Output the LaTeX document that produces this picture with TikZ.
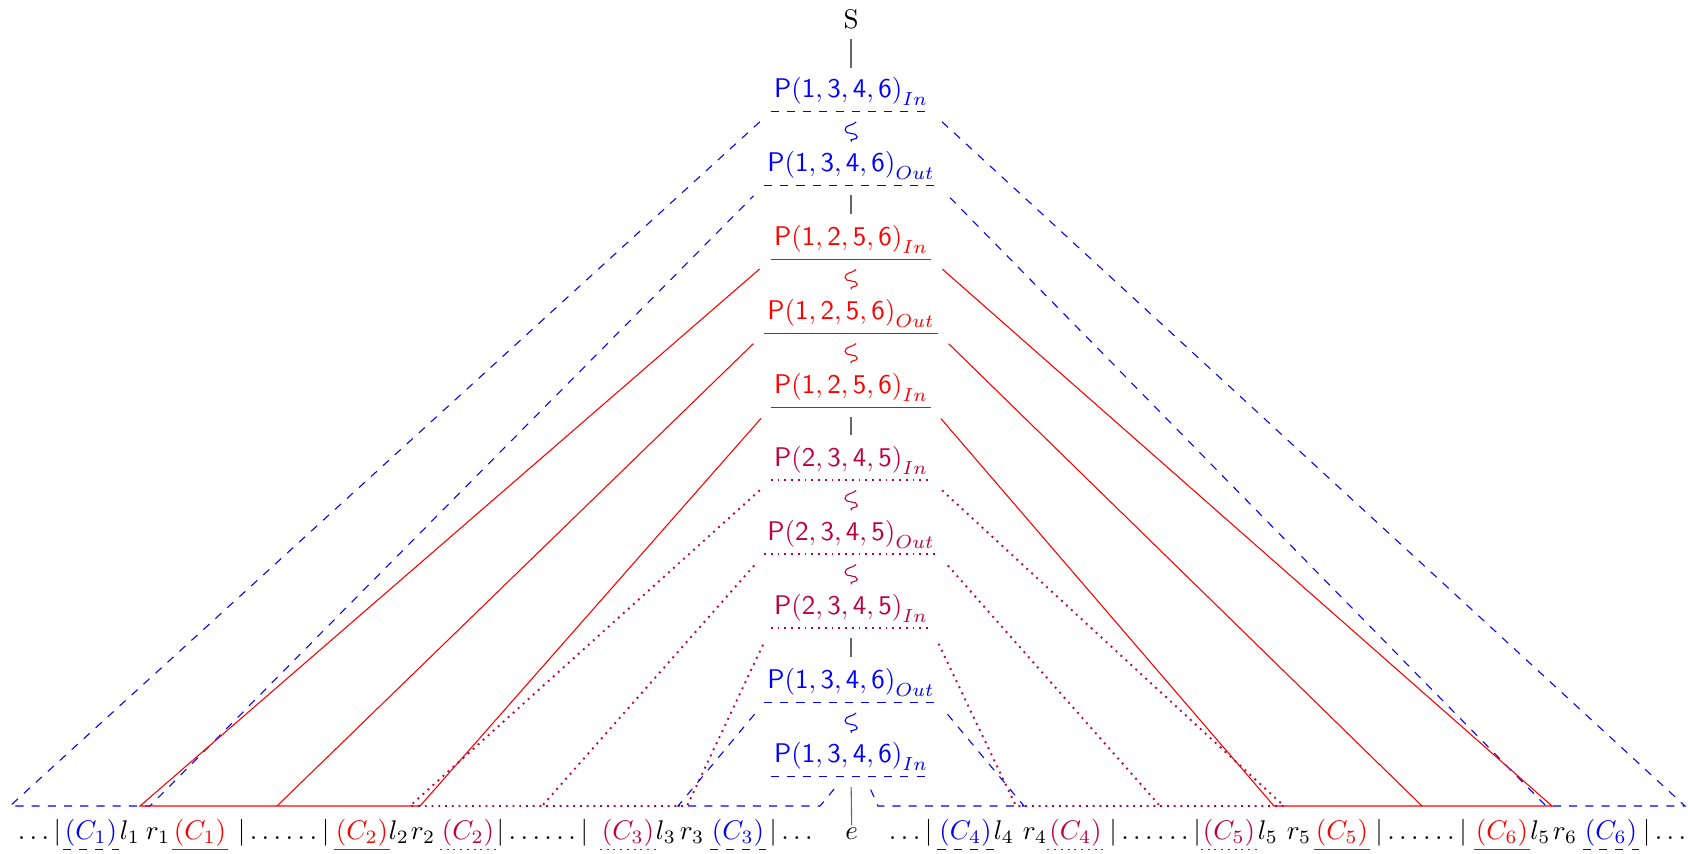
\documentclass[tikz,border=0pt]{standalone}
\usetikzlibrary{calc}
\definecolor{cpur}{rgb}{0.75,0,0.25}
\newcommand{\wavyconn}[3]{%
  \draw[#3] ($(#1.south)+(1.9pt,-3.8pt)$) to[out=-135,in=90] ++(-4.1pt,-2.9pt)
    to[out=-90,in=90] ++(4.5pt,-2.6pt) to[out=-90,in=90] ++(-2.2pt,-1.5pt)
    -- ($(#2.north)+(0,2pt)$);}
\begin{document}
\begin{tikzpicture}[x=0.3704pt,y=-0.3704pt,
  pnode/.style={inner xsep=1pt, inner ysep=2.1pt, anchor=south},
  bl/.style={draw=blue, dashed},
  rd/.style={draw=red},
  pu/.style={draw=cpur, line width=0.7pt, dash pattern=on 0.7pt off 1.8pt},
  vline/.style={draw=black!60, shorten <=3.7pt, shorten >=1.7pt},
  cut/.style={shorten <=5.5pt, shorten >=5.5pt},
  txt/.style={anchor=base, inner sep=0pt},
  ul/.style={anchor=base, inner xsep=0.5pt, inner ysep=1.2pt}]
\useasboundingbox (0,0) rectangle (1688,853);

% top
\node[inner sep=0pt] (s) at (851,19.7) {S};

% chain of nodes
\node[pnode, text=blue] (n1) at (851,111.8) {$\mathsf{P(1,3,4,6)}_{In}$};
\node[pnode, text=blue] (n2) at (851,185.3) {$\mathsf{P(1,3,4,6)}_{Out}$};
\node[pnode, text=red] (n3) at (851,259.3) {$\mathsf{P(1,2,5,6)}_{In}$};
\node[pnode, text=red] (n4) at (851,333.3) {$\mathsf{P(1,2,5,6)}_{Out}$};
\node[pnode, text=red] (n5) at (851,407.3) {$\mathsf{P(1,2,5,6)}_{In}$};
\node[pnode, text=cpur] (n6) at (851,480.3) {$\mathsf{P(2,3,4,5)}_{In}$};
\node[pnode, text=cpur] (n7) at (851,554.3) {$\mathsf{P(2,3,4,5)}_{Out}$};
\node[pnode, text=cpur] (n8) at (851,628.3) {$\mathsf{P(2,3,4,5)}_{In}$};
\node[pnode, text=blue] (n9) at (851,702.8) {$\mathsf{P(1,3,4,6)}_{Out}$};
\node[pnode, text=blue] (n10) at (851,776.3) {$\mathsf{P(1,3,4,6)}_{In}$};

% underlines of chain nodes
\draw[bl] (n1.south west) -- (n1.south east);
\draw[bl] (n2.south west) -- (n2.south east);
\draw[rd] (n3.south west) -- (n3.south east);
\draw[rd] (n4.south west) -- (n4.south east);
\draw[rd] (n5.south west) -- (n5.south east);
\draw[pu] (n6.south west) -- (n6.south east);
\draw[pu] (n7.south west) -- (n7.south east);
\draw[pu] (n8.south west) -- (n8.south east);
\draw[bl] (n9.south west) -- (n9.south east);
\draw[bl] (n10.south west) -- (n10.south east);

% bottom word e
\node[txt] (e) at (851.7,839) {$e$};

% vertical connectors
\draw[draw=black!60, shorten <=3.3pt, shorten >=1.2pt] (s.south) -- (n1.north);
\draw[vline] (n2.south) -- (n3.north);
\draw[vline] (n5.south) -- (n6.north);
\draw[vline] (n8.south) -- (n9.north);
\draw[draw=black!60, shorten <=4pt, shorten >=0.6pt] (n10.south) -- (e.north);

% wavy connectors
\wavyconn{n1}{n2}{blue}
\wavyconn{n3}{n4}{red}
\wavyconn{n4}{n5}{red}
\wavyconn{n6}{n7}{cpur}
\wavyconn{n7}{n8}{cpur}
\wavyconn{n9}{n10}{blue}

% bottom points
\coordinate (L1) at (10,806);   \coordinate (R1) at (1685,806);
\coordinate (L2) at (150,806);  \coordinate (R2) at (1546,806);
\coordinate (L3) at (140,806);  \coordinate (R3) at (1552,806);
\coordinate (L4) at (277,806);  \coordinate (R4) at (1422,806);
\coordinate (L5) at (420,806);  \coordinate (R5) at (1274,806);
\coordinate (L6) at (410,806);  \coordinate (R6) at (1284,806);
\coordinate (L7) at (542,806);  \coordinate (R7) at (1160,806);
\coordinate (L8) at (687,806);  \coordinate (R8) at (1016,806);
\coordinate (L9) at (678,806);  \coordinate (R9) at (1024,806);
\coordinate (L10) at (820,806); \coordinate (R10) at (878,806);
\coordinate (T10L) at (835,788); \coordinate (T10R) at (870,788);

% band A (blue)
\draw[bl, cut] (n1.south west) -- (L1) -- (L2) -- (n2.south west);
\draw[bl, cut] (n1.south east) -- (R1) -- (R2) -- (n2.south east);
% band B (red)
\draw[rd, cut] (n3.south west) -- (L3) -- (L5) -- (n5.south west);
\draw[rd, cut] (n3.south east) -- (R3) -- (R5) -- (n5.south east);
\draw[rd, shorten <=5.5pt] (n4.south west) -- (L4);
\draw[rd, shorten <=5.5pt] (n4.south east) -- (R4);
% band C (purple)
\draw[pu, cut] (n6.south west) -- (L6) -- (L8) -- (n8.south west);
\draw[pu, cut] (n6.south east) -- (R6) -- (R8) -- (n8.south east);
\draw[pu, shorten <=5.5pt] (n7.south west) -- (L7);
\draw[pu, shorten <=5.5pt] (n7.south east) -- (R7);
% band D (blue)
\draw[bl, shorten <=5.5pt] (n9.south west) -- (L9) -- (L10) -- (T10L);
\draw[bl, shorten <=5.5pt] (n9.south east) -- (R9) -- (R10) -- (T10R);

% bottom text row
\node[txt] (a1) at (39.5,839) {$\ldots|$};
\node[ul, text=blue] (c1a) at (91,839) {$(C_1)$};
\node[txt] (l1) at (130,839) {$l_1$};
\node[txt] (r1) at (158,839) {$r_1$};
\node[ul, text=red] (c1b) at (200,839) {$(C_1)$};
\node[txt] (a2) at (283.5,839) {$|\ldots\ldots|$};
\node[ul, text=red] (c2a) at (362,839) {$(C_2)$};
\node[txt] (l2) at (399,839) {$l_2$};
\node[txt] (r2) at (423,839) {$r_2$};
\node[ul, text=cpur] (c2b) at (468,839) {$(C_2)$};
\node[txt] (a3) at (542.3,839) {$|\ldots\ldots|$};
\node[ul, text=cpur] (c3a) at (628,839) {$(C_3)$};
\node[txt] (l3) at (666,839) {$l_3$};
\node[txt] (r3) at (692,839) {$r_3$};
\node[ul, text=blue] (c3b) at (738,839) {$(C_3)$};
\node[txt] (a4) at (791,839) {$|\ldots$};
\node[txt] (a5) at (910.7,839) {$\ldots|$};
\node[ul, text=blue] (c4a) at (965.5,839) {$(C_4)$};
\node[txt] (l4) at (1004,839) {$l_4$};
\node[txt] (r4) at (1035,839) {$r_4$};
\node[ul, text=cpur] (c4b) at (1075.5,839) {$(C_4)$};
\node[txt] (a6) at (1155,839) {$|\ldots\ldots|$};
\node[ul, text=cpur] (c5a) at (1229,839) {$(C_5)$};
\node[txt] (l5) at (1268,839) {$l_5$};
\node[txt] (r5) at (1299,839) {$r_5$};
\node[ul, text=red] (c5b) at (1342,839) {$(C_5)$};
\node[txt] (a7) at (1421,839) {$|\ldots\ldots|$};
\node[ul, text=red] (c6a) at (1502,839) {$(C_6)$};
\node[txt] (l6) at (1540.5,839) {$l_5$};
\node[txt] (r6) at (1565,839) {$r_6$};
\node[ul, text=blue] (c6b) at (1611,839) {$(C_6)$};
\node[txt] (a8) at (1664.5,839) {$|\ldots$};

\draw[bl] (c1a.south west) -- (c1a.south east);
\draw[rd] (c1b.south west) -- (c1b.south east);
\draw[rd] (c2a.south west) -- (c2a.south east);
\draw[pu] (c2b.south west) -- (c2b.south east);
\draw[pu] (c3a.south west) -- (c3a.south east);
\draw[bl] (c3b.south west) -- (c3b.south east);
\draw[bl] (c4a.south west) -- (c4a.south east);
\draw[pu] (c4b.south west) -- (c4b.south east);
\draw[pu] (c5a.south west) -- (c5a.south east);
\draw[rd] (c5b.south west) -- (c5b.south east);
\draw[rd] (c6a.south west) -- (c6a.south east);
\draw[bl] (c6b.south west) -- (c6b.south east);
\end{tikzpicture}
\end{document}
